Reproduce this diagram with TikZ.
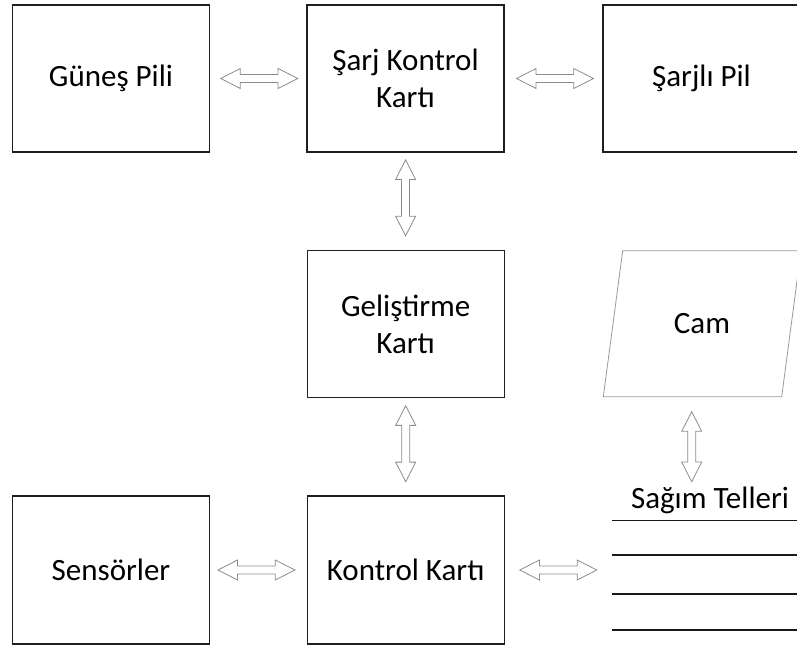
\documentclass[tikz,border=0pt]{standalone}
\usepackage{fontspec}
\setmainfont{Carlito}
\usetikzlibrary{shapes.arrows,calc}
\tikzset{
  box/.style={draw=black!88, line width=1.3pt, rectangle, minimum width=197pt, minimum height=147pt, align=center, inner sep=0pt},
  dblarrow/.style={double arrow, draw=black!45, fill=white, line width=0.8pt, inner sep=3.6pt,
    double arrow head extend=6pt, double arrow tip angle=54, minimum height=77pt},
  wire/.style={draw=black!90, line width=1.4pt},
  lbl/.style={font=\fontsize{31}{37}\selectfont, text=black, align=center}
}
\begin{document}
\begin{tikzpicture}[x=1pt,y=-1pt]
\useasboundingbox (0,0) rectangle (797,648);
\clip (0,0) rectangle (797,648);
% boxes
\node[box, lbl] (gunes) at (111,78.5) {Güneş Pili};
\node[box, lbl] (sarj) at (405.5,78.5) {Şarj Kontrol\\Kartı};
\node[box, lbl] (sarjli) at (701.5,78.5) {Şarjlı Pil};
\node[box, lbl] (gelis) at (405.7,324.2) {Geliştirme\\Kartı};
\node[box, lbl, minimum height=148pt] (sensor) at (111,570) {Sensörler};
\node[box, lbl, minimum height=148pt] (kontrol) at (405.7,570) {Kontrol Kartı};
% Cam parallelogram
\draw[draw=black!40, line width=0.8pt] (603.3,396.7) -- (622.7,250.7) -- (801,250.7) -- (781.7,396.7) -- cycle;
\node[lbl] (cam) at (702,323.7) {Cam};
\coordinate (camb) at (691.7,396.7);
% Sagim Telleri
\node[lbl, inner sep=0pt] (sagim) at (710,500) {Sağım Telleri};
\coordinate (sagtop) at (691.7,496.7);
\coordinate (wires) at (611.7,570);
\draw[wire] (611.7,520.7) -- (800,520.7);
\draw[wire] (611.7,555) -- (800,555);
\draw[wire] (611.7,594) -- (800,594);
\draw[wire] (611.7,630) -- (800,630);
% arrows
\path (gunes.east) -- (sarj.west) node[pos=0.51, dblarrow] {};
\path (sarj.east) -- (sarjli.west) node[pos=0.515, dblarrow] {};
\path (sensor.east) -- (kontrol.west) node[pos=0.48, dblarrow] {};
\path (kontrol.east) -- (wires) node[midway, dblarrow] {};
\path (sarj.south) -- (gelis.north) node[pos=0.464, dblarrow, rotate=90, minimum height=76pt] {};
\path (gelis.south) -- (kontrol.north) node[pos=0.468, dblarrow, rotate=90, minimum height=76pt] {};
\path (camb) -- (sagtop) node[midway, dblarrow, rotate=90, minimum height=70pt] {};
\end{tikzpicture}
\end{document}
